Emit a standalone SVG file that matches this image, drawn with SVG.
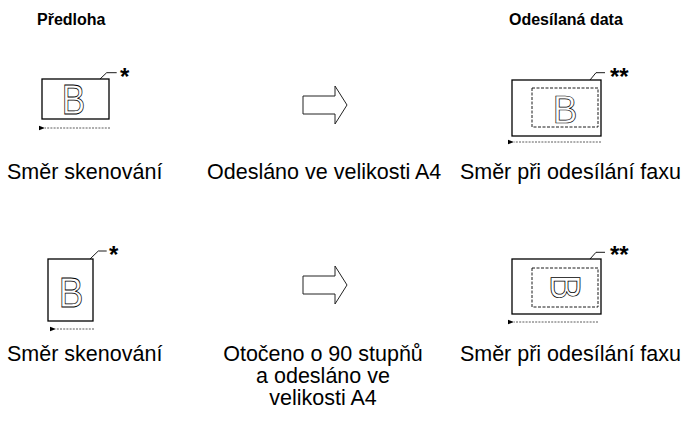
<svg xmlns="http://www.w3.org/2000/svg" width="682" height="421" viewBox="0 0 682 421">
<style>
text{font-family:"Liberation Sans",Arial,sans-serif;fill:#000}
.h{font-size:16px;font-weight:bold}
.l{font-size:21.5px}
.box{fill:#fff;stroke:#000;stroke-width:1.3}
.dash{fill:none;stroke:#000;stroke-width:0.9;stroke-dasharray:3 1.5}
.scan{fill:none;stroke:#333;stroke-width:0.8;stroke-dasharray:2 1.2}
.lead{fill:none;stroke:#000;stroke-width:0.9}
.star{font-size:24px;font-weight:bold}
.b{fill:#fff;stroke:#000;stroke-width:0.8;font-size:43px;text-anchor:middle;opacity:0.99}
.blk{fill:#fff;stroke:#222;stroke-width:1}
</style>
<defs>
<marker id="ah" viewBox="0 0 6 6" refX="0" refY="3" markerWidth="6" markerHeight="6" markerUnits="userSpaceOnUse" orient="auto-start-reverse">
<path d="M6,0.8 L0,3 L6,5.2 Z" fill="#000"/>
</marker>
</defs>
<g id="headers">
<text class="h" x="37" y="25">Předloha</text>
<text class="h" x="509" y="25">Odesílaná data</text>
</g>
<g id="orig1">
<rect class="box" x="42" y="79" width="67" height="40"/>
<text class="b" transform="translate(73.5,114) scale(0.82,1)" x="0" y="0">B</text>
<text class="star" x="120" y="84.5">*</text>
</g>
<g id="sent1">
<rect class="box" x="512" y="80" width="89" height="56"/>
<rect class="dash" x="532" y="88" width="66" height="39"/>
<text class="b" transform="translate(565,123) scale(0.86,0.91)" x="0" y="0">B</text>
<text class="star" x="610" y="84.5">**</text>
</g>
<g id="orig2">
<rect class="box" x="48" y="259" width="45" height="62"/>
<text class="b" transform="translate(71,306.5) scale(0.86,1)" x="0" y="0">B</text>
<text class="star" x="109" y="263">*</text>
</g>
<g id="sent2">
<rect class="box" x="512" y="259" width="89" height="55"/>
<rect class="dash" x="532" y="268" width="66" height="39"/>
<text class="b" transform="translate(566,287) rotate(90) scale(0.88,0.98)" x="0" y="15">B</text>
<text class="star" x="610" y="263">**</text>
</g>
<g id="arrow1">
<polygon class="blk" points="303,96 335,96 335,86 347,105 335,124 335,114 303,114"/>
</g>
<g id="arrow2">
<polygon class="blk" points="303,276 335,276 335,266 347,285 335,304 335,294 303,294"/>
</g>
<g id="labels">
<text class="l" x="7" y="179">Směr skenování</text>
<text class="l" x="207" y="179">Odesláno ve velikosti A4</text>
<text class="l" x="681" y="179" text-anchor="end">Směr při odesílání faxu</text>
<text class="l" x="7" y="361">Směr skenování</text>
<text class="l" x="323" y="361" text-anchor="middle">Otočeno o 90 stupňů</text>
<text class="l" x="323" y="383" text-anchor="middle">a odesláno ve</text>
<text class="l" x="323" y="405" text-anchor="middle">velikosti A4</text>
<text class="l" x="681" y="361" text-anchor="end">Směr při odesílání faxu</text>
</g>
<g id="connectors">
<path class="lead" d="M100,79 L106.7,72.7 L116.7,72.7"/>
<path class="lead" d="M590,80 L596,72.7 L605,72.7"/>
<path class="lead" d="M90,259 L98.3,251 L106.7,251"/>
<path class="lead" d="M590,259 L596,252.3 L605,252.3"/>
<path class="scan" d="M110,128 L45,128" marker-end="url(#ah)"/>
<path class="scan" d="M601,142 L514,142" marker-end="url(#ah)"/>
<path class="scan" d="M94,329 L56,329" marker-end="url(#ah)"/>
<path class="scan" d="M598,322 L514,322" marker-end="url(#ah)"/>
</g>
</svg>
